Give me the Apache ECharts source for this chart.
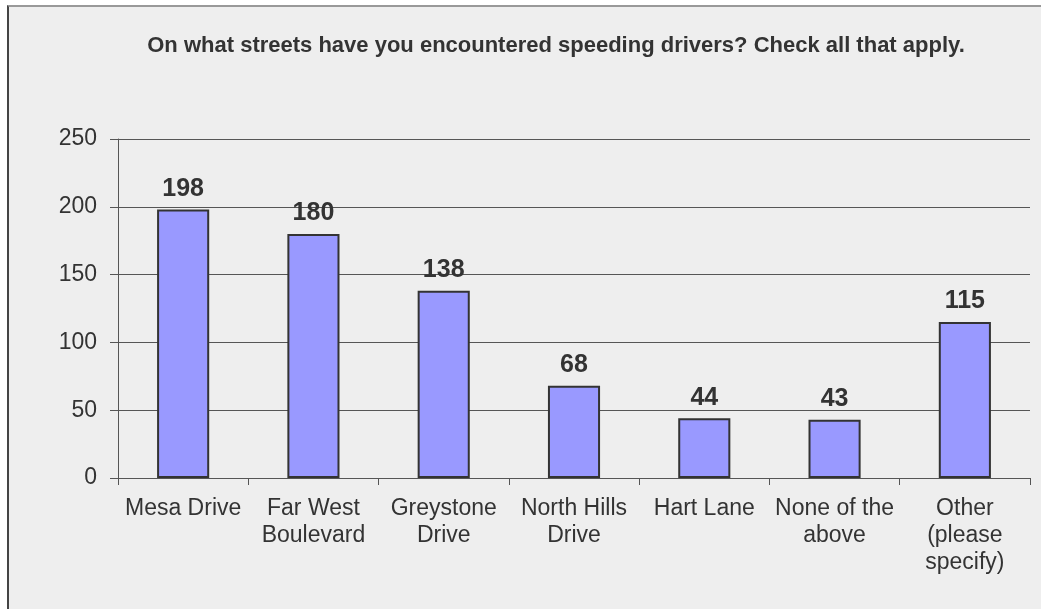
<!DOCTYPE html>
<html>
<head>
<meta charset="utf-8">
<script src="https://cdn.jsdelivr.net/npm/echarts@6/dist/echarts.min.js"></script>
<style>
  html, body { margin: 0; padding: 0; background: #fff; }
  .frame {
    position: absolute; left: 7px; top: 5px; right: 0; bottom: 0;
    background: #eeeeee;
    border-left: 2px solid #444;
    border-top: 2px solid #999;
  }
  .chart { position: absolute; left: 0; top: 0; width: 1041px; height: 609px; }
</style>
</head>
<body>
<div class="frame"></div>
<div class="chart" id="chart"></div>
<script>
const categories = ['Mesa Drive', 'Far West Boulevard', 'Greystone Drive', 'North Hills Drive', 'Hart Lane', 'None of the above', 'Other (please specify)']
// category labels as they wrap in the picture
const tickLabels = ['Mesa Drive', 'Far West\nBoulevard', 'Greystone\nDrive', 'North Hills\nDrive', 'Hart Lane', 'None of the\nabove', 'Other\n(please\nspecify)']
const values = [198, 180, 138, 68, 44, 43, 115]
const yTicks = [0, 50, 100, 150, 200, 250]

const chart = echarts.init(document.getElementById('chart'))
chart.setOption({
  backgroundColor: 'transparent',
  animation: false,
  title: {
    text: 'On what streets have you encountered speeding drivers? Check all that apply.',
    left: 551,
    textAlign: 'center',
    top: 30,
    textStyle: {
      fontFamily: 'Liberation Sans, Arial, sans-serif',
      fontSize: 22,
      fontWeight: 'bold',
      color: '#333'
    }
  },
  grid: { left: 118, right: 11, top: 139, bottom: 131, containLabel: false },
  xAxis: {
    type: 'category',
    data: categories,
    axisLine: { lineStyle: { color: '#555', width: 1 } },
    axisTick: { show: true, alignWithLabel: false, length: 7, lineStyle: { color: '#555' } },
    axisLabel: {
      interval: 0,
      margin: 17,
      lineHeight: 27,
      fontFamily: 'Liberation Sans, Arial, sans-serif',
      fontSize: 23,
      color: '#333',
      formatter: (v, i) => tickLabels[i]
    }
  },
  yAxis: {
    type: 'value',
    min: yTicks[0],
    max: yTicks[yTicks.length - 1],
    interval: 50,
    axisLine: { show: true, lineStyle: { color: '#555', width: 1 } },
    axisTick: { show: true, length: 8, lineStyle: { color: '#555' } },
    axisLabel: {
      margin: 21,
      fontFamily: 'Liberation Sans, Arial, sans-serif',
      fontSize: 23,
      color: '#333'
    },
    splitLine: { lineStyle: { color: '#555', width: 1 } }
  },
  series: [{
    type: 'bar',
    data: values,
    barWidth: '40%',
    itemStyle: { color: '#9999ff', borderColor: '#333', borderWidth: 2 },
    label: {
      show: true,
      position: 'top',
      distance: 8,
      fontFamily: 'Liberation Sans, Arial, sans-serif',
      fontSize: 25,
      fontWeight: 'bold',
      color: '#333'
    }
  }]
})
</script>
</body>
</html>
